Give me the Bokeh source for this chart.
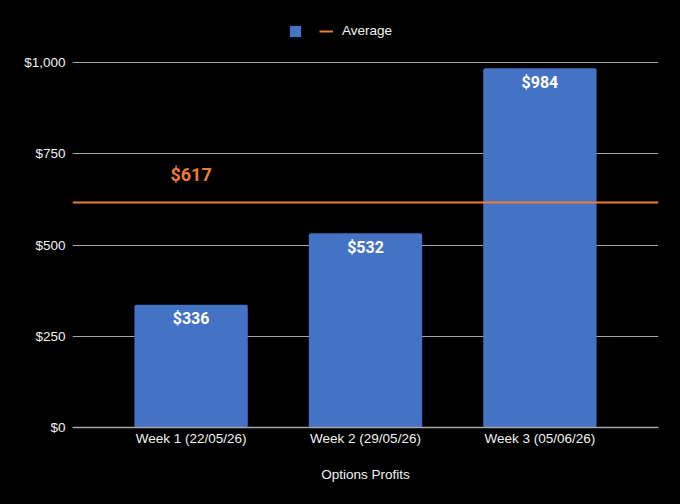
from bokeh.plotting import figure
from bokeh.models import (ColumnDataSource, NumeralTickFormatter, FixedTicker, Legend,
                          LegendItem, FactorRange, Range1d)
from bokeh.core.properties import value
from bokeh.embed import file_html
from bokeh.resources import INLINE

# ---- data ----
weeks = ["Week 1 (22/05/26)", "Week 2 (29/05/26)", "Week 3 (05/06/26)"]
profits = [336, 532, 984]
average = [617]
y_ticks = [0, 250, 500, 750, 1000]
x_title = "Options Profits"
avg_name = "Average"

BLUE = "#4472C4"
ORANGE = "#ED7D31"
GRID = "#a6a6a6"
TEXT = "#f2f2f2"
FS = "13.5px"

src = ColumnDataSource(dict(week=weeks, profit=profits,
                            label=["$" + format(v, ",") for v in profits]))

# frame extends above $1,000 to leave room for the legend
p = figure(width=680, height=504,
           x_range=FactorRange(*weeks, range_padding=0.12),
           y_range=Range1d(0, 1142.5),
           output_backend="svg", toolbar_location=None,
           min_border_left=72, min_border_right=22,
           min_border_top=10, min_border_bottom=77)

p.styles = {"background-color": "black"}
p.background_fill_color = "black"
p.border_fill_color = "black"
p.outline_line_color = None

bars = p.vbar(x="week", top="profit", width=0.65, source=src,
              fill_color=BLUE, line_color=None, border_radius=2)

avg = p.hspan(y=average, line_color=ORANGE, line_width=2)

p.text(x="week", y="profit", text="label", source=src,
       text_color="white", text_font=value("Roboto"), text_font_style="bold",
       text_font_size="16px", text_align="center", text_baseline="alphabetic",
       y_offset=14)

p.text(x=[weeks[0]], y=average, text=["$" + str(v) for v in average],
       text_color=ORANGE, text_font=value("Roboto"), text_font_style="bold",
       text_font_size="18px", text_align="center", text_baseline="alphabetic",
       y_offset=-28)

# axes
p.xgrid.grid_line_color = None
p.ygrid.grid_line_color = GRID
p.ygrid.grid_line_width = 1
p.ygrid.ticker = FixedTicker(ticks=y_ticks)

p.yaxis.ticker = FixedTicker(ticks=y_ticks)
p.yaxis.formatter = NumeralTickFormatter(format="$0,0")
p.yaxis.axis_line_color = None
p.yaxis.major_tick_line_color = None
p.yaxis.minor_tick_line_color = None
p.yaxis.major_tick_out = 0
p.yaxis.major_label_standoff = 7
p.yaxis.major_label_text_color = TEXT
p.yaxis.major_label_text_font = "Liberation Sans"
p.yaxis.major_label_text_font_size = FS

p.xaxis.axis_line_color = GRID
p.xaxis.axis_line_width = 1.5
p.xaxis.major_tick_line_color = None
p.xaxis.major_tick_out = 0
p.xaxis.major_label_standoff = 3
p.xaxis.major_label_text_color = TEXT
p.xaxis.major_label_text_font = "Liberation Sans"
p.xaxis.major_label_text_font_size = FS
p.xaxis.axis_label = x_title
p.xaxis.axis_label_text_color = TEXT
p.xaxis.axis_label_text_font = "Liberation Sans"
p.xaxis.axis_label_text_font_size = FS
p.xaxis.axis_label_text_font_style = "normal"
p.xaxis.axis_label_standoff = 18

legend = Legend(items=[LegendItem(label=" ", renderers=[bars]),
                       LegendItem(label=avg_name, renderers=[avg])],
                orientation="horizontal", location=(216, 389),
                background_fill_alpha=0, border_line_color=None,
                label_text_color=TEXT, label_text_font="Liberation Sans",
                label_text_font_size=FS, glyph_width=14, glyph_height=14,
                label_width=1, label_height=14,
                spacing=7, padding=0, margin=0, label_standoff=9)
p.add_layout(legend, "center")

open("out.html", "w").write(file_html(p, INLINE))
